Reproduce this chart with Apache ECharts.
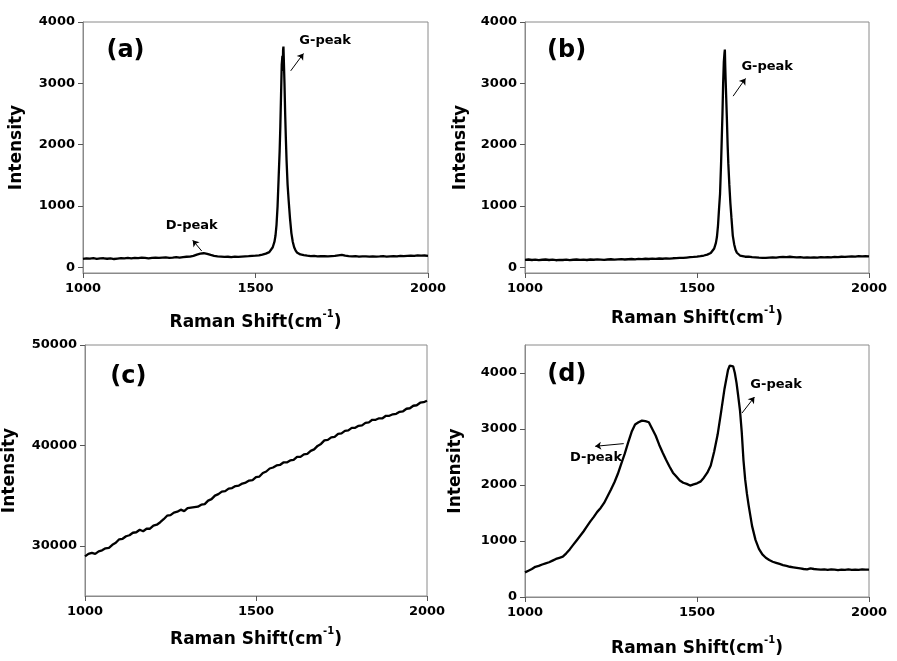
<!DOCTYPE html>
<html>
<head>
<meta charset="utf-8">
<script src="https://cdn.jsdelivr.net/npm/echarts@6/dist/echarts.min.js"></script>
<style>html,body{margin:0;padding:0;background:#fff}#c{width:897px;height:661px}</style>
</head>
<body>
<div id="c"></div>
<script>
// ---------- data ----------
var xTicks = [1000, 1500, 2000];

var shiftA = [1000,1010,1020,1030,1040,1050,1060,1070,1080,1090,1100,1110,1120,1130,1140,1150,1160,1170,1180,1190,1200,1210,1220,1230,1240,1250,1260,1270,1280,1290,1300,1310,1320,1330,1340,1350,1360,1370,1380,1390,1400,1410,1420,1430,1440,1450,1460,1470,1480,1490,1500,1510,1520,1530,1540,1545,1550,1555,1558,1561,1564,1567,1570,1572,1574,1576,1578,1579,1580,1581,1582,1584,1586,1588,1590,1593,1596,1600,1604,1608,1612,1616,1620,1625,1630,1640,1650,1660,1670,1680,1690,1700,1710,1720,1730,1740,1750,1760,1770,1780,1790,1800,1810,1820,1830,1840,1850,1860,1870,1880,1890,1900,1910,1920,1930,1940,1950,1960,1970,1980,1990,2000];
var intensityA = [140,150,145,152,140,148,150,142,150,138,145,152,148,155,150,158,152,160,155,150,158,162,155,160,165,158,162,168,160,170,175,178,190,210,225,232,222,205,190,182,178,172,175,170,176,172,178,182,185,190,192,198,210,225,250,280,330,420,520,700,1000,1450,1900,2300,2800,3300,3450,3200,3550,3600,3400,3000,2500,2100,1750,1350,1100,800,560,420,330,280,245,225,212,200,192,185,188,182,186,183,180,186,190,198,205,192,185,180,184,178,182,180,176,182,178,180,184,178,182,186,180,188,185,190,194,188,196,192,195,190];

var shiftB = [1000,1010,1020,1030,1040,1050,1060,1070,1080,1090,1100,1110,1120,1130,1140,1150,1160,1170,1180,1190,1200,1210,1220,1230,1240,1250,1260,1270,1280,1290,1300,1310,1320,1330,1340,1350,1360,1370,1380,1390,1400,1410,1420,1430,1440,1450,1460,1470,1480,1490,1500,1510,1520,1530,1540,1545,1550,1555,1558,1561,1564,1567,1570,1572,1574,1576,1578,1580,1581,1582,1583,1585,1587,1589,1591,1594,1597,1600,1604,1608,1612,1616,1620,1625,1630,1640,1650,1660,1670,1680,1690,1700,1710,1720,1730,1740,1750,1760,1770,1780,1790,1800,1810,1820,1830,1840,1850,1860,1870,1880,1890,1900,1910,1920,1930,1940,1950,1960,1970,1980,1990,2000];
var intensityB = [125,130,122,128,120,126,130,122,128,118,125,122,128,120,126,130,124,128,122,130,126,132,128,124,130,134,128,132,136,130,134,138,132,140,136,142,138,144,140,146,142,148,145,150,152,158,155,162,168,172,178,185,195,210,235,260,310,400,500,680,950,1200,1700,2100,2500,3000,3350,3500,3550,3300,3100,2750,2400,2000,1700,1350,1050,820,520,380,290,240,210,195,185,175,178,168,165,160,158,155,160,165,162,168,172,168,175,170,165,168,162,165,160,166,162,168,165,170,166,172,168,175,172,178,182,176,185,180,184,180];

var shiftC = [1000,1010,1020,1030,1040,1050,1060,1070,1080,1090,1100,1110,1120,1130,1140,1150,1160,1170,1180,1190,1200,1210,1220,1230,1240,1250,1260,1270,1280,1290,1300,1310,1320,1330,1340,1350,1360,1370,1380,1390,1400,1410,1420,1430,1440,1450,1460,1470,1480,1490,1500,1510,1520,1530,1540,1550,1560,1570,1580,1590,1600,1610,1620,1630,1640,1650,1660,1670,1680,1690,1700,1710,1720,1730,1740,1750,1760,1770,1780,1790,1800,1810,1820,1830,1840,1850,1860,1870,1880,1890,1900,1910,1920,1930,1940,1950,1960,1970,1980,1990,2000];
var intensityC = [28950,29200,29300,29200,29450,29550,29750,29800,30100,30300,30650,30700,30950,31050,31300,31350,31600,31450,31700,31700,32000,32100,32350,32650,33000,33050,33300,33400,33600,33450,33750,33800,33850,33900,34100,34150,34500,34650,35000,35150,35400,35450,35700,35750,35950,36000,36200,36300,36500,36550,36850,36900,37250,37400,37700,37800,38000,38050,38300,38300,38500,38550,38850,38850,39100,39150,39450,39600,39950,40150,40500,40550,40800,40850,41150,41200,41450,41500,41750,41750,41950,42000,42250,42300,42550,42550,42700,42700,42950,42950,43100,43150,43350,43400,43650,43700,43950,44000,44250,44300,44450];

var shiftD = [1000,1010,1020,1030,1040,1050,1060,1070,1080,1090,1100,1110,1120,1130,1140,1150,1160,1170,1180,1190,1200,1210,1220,1230,1240,1250,1260,1270,1280,1290,1300,1310,1320,1330,1340,1350,1360,1370,1380,1390,1400,1410,1420,1430,1440,1450,1460,1470,1480,1490,1500,1510,1520,1530,1540,1550,1560,1570,1580,1590,1595,1600,1605,1610,1615,1620,1625,1630,1635,1640,1645,1650,1660,1670,1680,1690,1700,1710,1720,1730,1740,1750,1760,1770,1780,1790,1800,1810,1820,1830,1840,1850,1860,1870,1880,1890,1900,1910,1920,1930,1940,1950,1960,1970,1980,1990,2000];
var intensityD = [440,470,500,540,555,580,600,620,650,680,700,720,780,850,930,1010,1090,1170,1260,1350,1430,1520,1590,1680,1800,1920,2050,2200,2380,2560,2760,2950,3080,3120,3150,3140,3120,3000,2880,2720,2580,2450,2330,2220,2150,2080,2040,2020,1990,2010,2030,2060,2130,2220,2350,2600,2900,3300,3720,4050,4130,4150,4120,4000,3820,3580,3330,2950,2450,2100,1850,1640,1270,1020,860,760,700,660,630,610,590,570,555,540,530,520,510,500,492,510,500,495,488,495,485,492,488,480,490,485,492,485,490,486,492,488,490];

// ---------- layout / style ----------
var FONT = 'DejaVu Sans';
var GRAY = '#8a8a8a';
var panels = [
  {x: shiftA, y: intensityA, grid: {left: 83, top: 22, width: 345, height: 251}, yMin: -90, yMax: 4000, yLabels: [0,1000,2000,3000,4000], yGap: 58, xGap: 36,
   label: '(a)', labelPos: [1068, 3530],
   notes: [{t: 'G-peak', p: [1627, 3690]}, {t: 'D-peak', p: [1240, 690]}],
   arrows: [[[1602, 3204], [1639, 3486]], [[1344, 269], [1318, 443]]]},
  {x: shiftB, y: intensityB, grid: {left: 525, top: 22, width: 344, height: 251}, yMin: -90, yMax: 4000, yLabels: [0,1000,2000,3000,4000], yGap: 56, xGap: 32,
   label: '(b)', labelPos: [1064, 3530],
   notes: [{t: 'G-peak', p: [1629, 3280]}],
   arrows: [[[1605, 2792], [1641, 3080]]]},
  {x: shiftC, y: intensityC, grid: {left: 84, top: 345, width: 343, height: 251}, yMin: 25000, yMax: 50000, yLabels: [30000,40000,50000], yGap: 67, xGap: 30,
   label: '(c)', labelPos: [1074, 46800],
   notes: [], arrows: []},
  {x: shiftD, y: intensityD, grid: {left: 525, top: 345, width: 344, height: 252}, yMin: 0, yMax: 4500, yLabels: [0,1000,2000,3000,4000], yGap: 61, xGap: 38,
   label: '(d)', labelPos: [1065, 3970],
   notes: [{t: 'G-peak', p: [1655, 3790]}, {t: 'D-peak', p: [1131, 2486]}],
   arrows: [[[1631, 3286], [1667, 3571]], [[1287, 2739], [1204, 2691]]]}
];

function plain(v) { return String(v); }

var option = {animation: false, backgroundColor: '#fff', grid: [], xAxis: [], yAxis: [], series: []};

panels.forEach(function (p, i) {
  option.grid.push(Object.assign({show: true, borderColor: GRAY, borderWidth: 1, containLabel: false}, p.grid));
  option.xAxis.push({
    type: 'value', gridIndex: i, min: 1000, max: 2000, interval: 500,
    name: '{n|Raman Shift(cm}{s|-1}{n|)}', nameLocation: 'middle', nameGap: p.xGap,
    nameTextStyle: {rich: {
      n: {fontFamily: FONT, fontWeight: 'bold', fontSize: 17, color: '#000', lineHeight: 22, verticalAlign: 'bottom'},
      s: {fontFamily: FONT, fontWeight: 'bold', fontSize: 10, color: '#000', lineHeight: 10, verticalAlign: 'top'}
    }},
    axisLine: {onZero: false, lineStyle: {color: GRAY, width: 1}},
    axisTick: {show: true, inside: false, length: 5, lineStyle: {color: '#555'}},
    axisLabel: {fontFamily: FONT, fontWeight: 'bold', fontSize: 13, color: '#000', margin: 9, customValues: xTicks, formatter: plain},
    splitLine: {show: false}
  });
  option.yAxis.push({
    type: 'value', gridIndex: i, min: p.yMin, max: p.yMax,
    name: 'Intensity', nameLocation: 'middle', nameGap: p.yGap, nameRotate: 90,
    nameTextStyle: {fontFamily: FONT, fontWeight: 'bold', fontSize: 17, color: '#000'},
    axisLine: {onZero: false, lineStyle: {color: GRAY, width: 1}},
    axisTick: {show: true, inside: false, length: 5, lineStyle: {color: '#555'}, customValues: p.yLabels},
    axisLabel: {fontFamily: FONT, fontWeight: 'bold', fontSize: 13, color: '#000', margin: 8, customValues: p.yLabels, formatter: plain},
    splitLine: {show: false}
  });
  var data = p.x.map(function (v, k) { return [v, p.y[k]]; });
  var mp = [{coord: p.labelPos, name: p.label,
             label: {show: true, position: 'right', distance: 0, formatter: p.label,
                     fontFamily: FONT, fontWeight: 'bold', fontSize: 24, color: '#000'}}];
  p.notes.forEach(function (n) {
    mp.push({coord: n.p, name: n.t,
             label: {show: true, position: 'right', distance: 0, formatter: n.t,
                     fontFamily: FONT, fontWeight: 'bold', fontSize: 13, color: '#000'}});
  });
  option.series.push({
    type: 'line', xAxisIndex: i, yAxisIndex: i, data: data,
    showSymbol: false, symbol: 'none', smooth: false,
    lineStyle: {color: '#000', width: 2.3}, itemStyle: {color: '#000'},
    markPoint: {symbol: 'circle', symbolSize: 0, silent: true, data: mp},
    markLine: {silent: true, symbol: ['none', 'arrow'], symbolSize: 6, label: {show: false},
               lineStyle: {color: '#000', width: 1, type: 'solid'}, itemStyle: {color: '#000'},
               data: p.arrows.map(function (a) { return [{coord: a[0]}, {coord: a[1]}]; })}
  });
});

var chart = echarts.init(document.getElementById('c'), null, {renderer: 'canvas'});
chart.setOption(option);
</script>
</body>
</html>
